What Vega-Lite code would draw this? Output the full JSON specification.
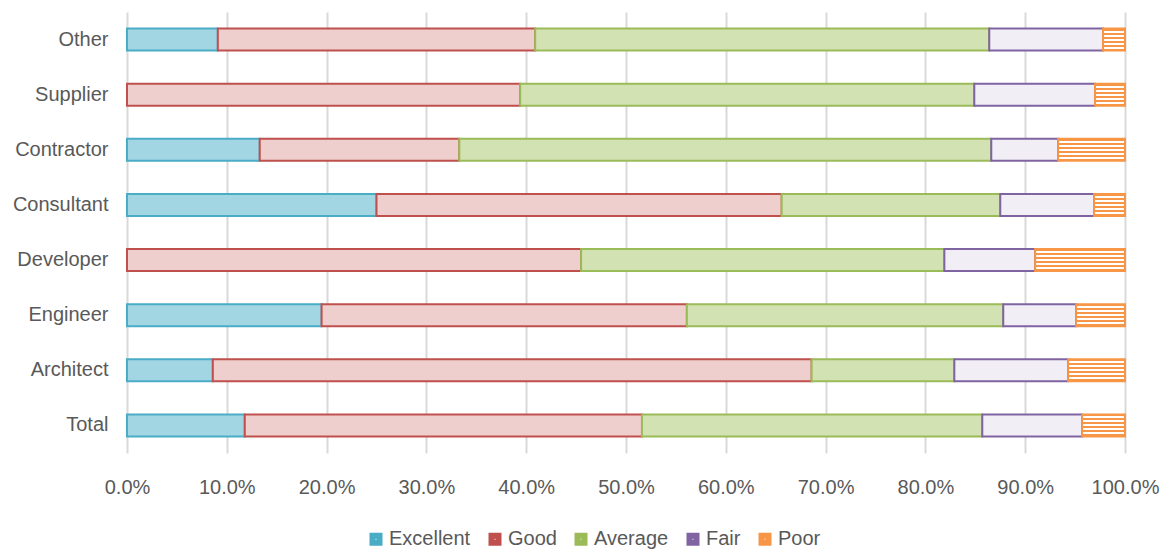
{
  "$schema": "https://vega.github.io/schema/vega-lite/v6.json",
  "width": 998,
  "height": 441,
  "autosize": "none",
  "padding": {"left": 127, "top": 12, "right": 38, "bottom": 97},
  "background": "white",
  "config": {"font": "Liberation Sans, Arial, sans-serif", "view": {"stroke": null}},
  "data": {"values": [
    {"category": "Other", "rating": "Excellent", "value": 0.091},
    {"category": "Other", "rating": "Good", "value": 0.318},
    {"category": "Other", "rating": "Average", "value": 0.455},
    {"category": "Other", "rating": "Fair", "value": 0.114},
    {"category": "Other", "rating": "Poor", "value": 0.022},
    {"category": "Supplier", "rating": "Good", "value": 0.394},
    {"category": "Supplier", "rating": "Average", "value": 0.455},
    {"category": "Supplier", "rating": "Fair", "value": 0.121},
    {"category": "Supplier", "rating": "Poor", "value": 0.030},
    {"category": "Contractor", "rating": "Excellent", "value": 0.133},
    {"category": "Contractor", "rating": "Good", "value": 0.200},
    {"category": "Contractor", "rating": "Average", "value": 0.533},
    {"category": "Contractor", "rating": "Fair", "value": 0.067},
    {"category": "Contractor", "rating": "Poor", "value": 0.067},
    {"category": "Consultant", "rating": "Excellent", "value": 0.250},
    {"category": "Consultant", "rating": "Good", "value": 0.406},
    {"category": "Consultant", "rating": "Average", "value": 0.219},
    {"category": "Consultant", "rating": "Fair", "value": 0.094},
    {"category": "Consultant", "rating": "Poor", "value": 0.031},
    {"category": "Developer", "rating": "Good", "value": 0.455},
    {"category": "Developer", "rating": "Average", "value": 0.364},
    {"category": "Developer", "rating": "Fair", "value": 0.091},
    {"category": "Developer", "rating": "Poor", "value": 0.090},
    {"category": "Engineer", "rating": "Excellent", "value": 0.195},
    {"category": "Engineer", "rating": "Good", "value": 0.366},
    {"category": "Engineer", "rating": "Average", "value": 0.317},
    {"category": "Engineer", "rating": "Fair", "value": 0.073},
    {"category": "Engineer", "rating": "Poor", "value": 0.049},
    {"category": "Architect", "rating": "Excellent", "value": 0.086},
    {"category": "Architect", "rating": "Good", "value": 0.600},
    {"category": "Architect", "rating": "Average", "value": 0.143},
    {"category": "Architect", "rating": "Fair", "value": 0.114},
    {"category": "Architect", "rating": "Poor", "value": 0.057},
    {"category": "Total", "rating": "Excellent", "value": 0.118},
    {"category": "Total", "rating": "Good", "value": 0.398},
    {"category": "Total", "rating": "Average", "value": 0.341},
    {"category": "Total", "rating": "Fair", "value": 0.100},
    {"category": "Total", "rating": "Poor", "value": 0.043}
  ]},
  "transform": [
    {"calculate": "indexof(['Excellent','Good','Average','Fair','Poor'], datum.rating)", "as": "k"}
  ],
  "mark": {"type": "bar", "strokeWidth": 2},
  "encoding": {
    "y": {
      "field": "category", "type": "nominal",
      "sort": ["Other", "Supplier", "Contractor", "Consultant", "Developer", "Engineer", "Architect", "Total"],
      "scale": {"paddingInner": 0.6, "paddingOuter": 0.3},
      "axis": {"title": null, "domain": false, "ticks": false, "labelFontSize": 20, "labelColor": "#595959", "labelPadding": 19}
    },
    "x": {
      "field": "value", "type": "quantitative", "stack": "zero",
      "scale": {"domain": [0, 1]},
      "axis": {"title": null, "format": ".1%", "values": [0, 0.1, 0.2, 0.3, 0.4, 0.5, 0.6, 0.7, 0.8, 0.9, 1], "labelOverlap": false, "labelFlush": false, "domain": false, "ticks": false, "gridColor": "#d9d9d9", "gridWidth": 2, "labelFontSize": 20, "labelColor": "#595959", "labelPadding": 24}
    },
    "stroke": {
      "field": "rating", "type": "nominal",
      "scale": {"domain": ["Excellent", "Good", "Average", "Fair", "Poor"], "range": ["#4bacc6", "#c0504d", "#9bbb59", "#8064a2", "#f79646"]},
      "legend": {
        "title": null, "orient": "none", "legendX": 239, "legendY": 517, "direction": "horizontal",
        "symbolType": "square", "symbolSize": 49, "symbolStrokeWidth": 6, "symbolFillColor": "#ffffff",
        "labelFontSize": 20, "labelColor": "#595959", "labelOffset": 3, "columnPadding": 8
      }
    },
    "fill": {
      "condition": [
        {"test": "datum.rating === 'Excellent'", "value": "#a3d6e3"},
        {"test": "datum.rating === 'Good'", "value": "#efcfce"},
        {"test": "datum.rating === 'Average'", "value": "#d3e2b3"},
        {"test": "datum.rating === 'Fair'", "value": "#f2eef6"},
        {"test": "datum.rating === 'Poor'", "value": {"gradient": "linear", "x1": 0, "y1": 0, "x2": 0, "y2": 1, "stops": [
          {"offset": 0, "color": "#f79646"}, {"offset": 0.0909, "color": "#f79646"},
          {"offset": 0.0909, "color": "#ffffff"}, {"offset": 0.1818, "color": "#ffffff"},
          {"offset": 0.1818, "color": "#f79646"}, {"offset": 0.2727, "color": "#f79646"},
          {"offset": 0.2727, "color": "#ffffff"}, {"offset": 0.3636, "color": "#ffffff"},
          {"offset": 0.3636, "color": "#f79646"}, {"offset": 0.4545, "color": "#f79646"},
          {"offset": 0.4545, "color": "#ffffff"}, {"offset": 0.5454, "color": "#ffffff"},
          {"offset": 0.5454, "color": "#f79646"}, {"offset": 0.6363, "color": "#f79646"},
          {"offset": 0.6363, "color": "#ffffff"}, {"offset": 0.7272, "color": "#ffffff"},
          {"offset": 0.7272, "color": "#f79646"}, {"offset": 0.8181, "color": "#f79646"},
          {"offset": 0.8181, "color": "#ffffff"}, {"offset": 0.9090, "color": "#ffffff"},
          {"offset": 0.9090, "color": "#f79646"}, {"offset": 1, "color": "#f79646"}
        ]}}
      ],
      "value": "#ffffff"
    },
    "order": {"field": "k"}
  }
}
